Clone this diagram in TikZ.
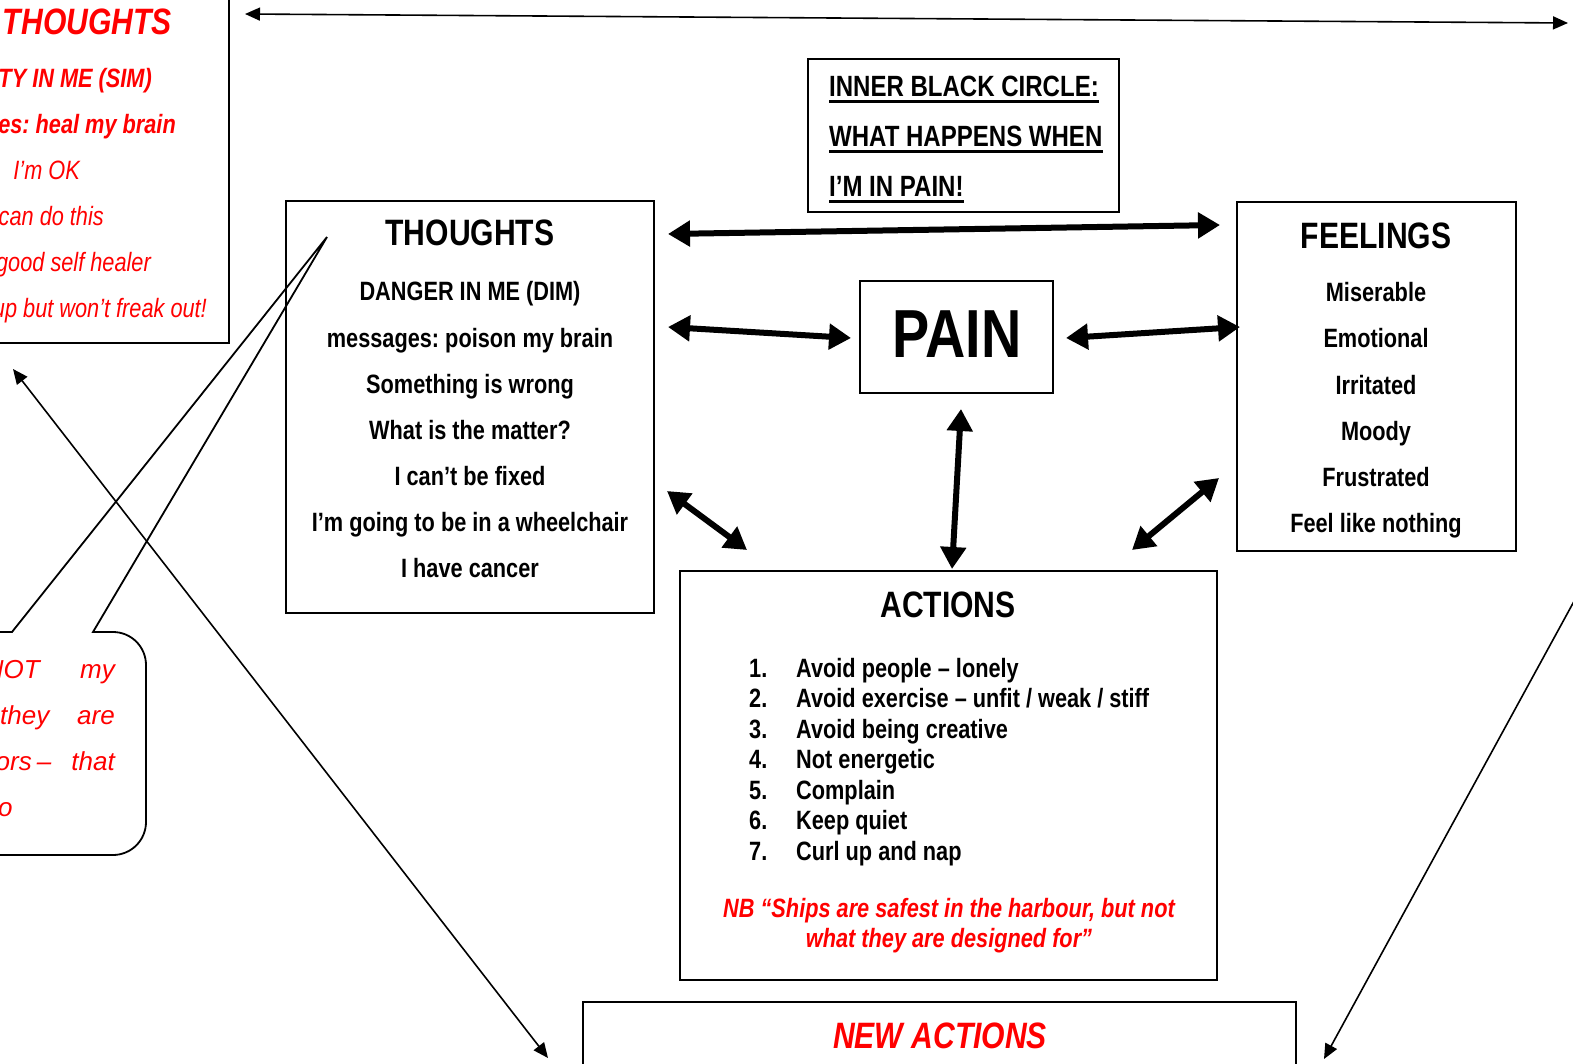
\documentclass[tikz,border=0pt]{standalone}
\usepackage{fontspec}
\setmainfont{Liberation Sans}[FakeStretch=0.82]
\newfontfamily\widesans{Liberation Sans}
\usetikzlibrary{arrows.meta}
\definecolor{rd}{RGB}{255,0,0}
\frenchspacing
\begin{document}
\frenchspacing
\begin{tikzpicture}[x=1pt,y=-1pt,
  bx/.style={draw, line width=1.8pt, inner sep=0pt},
  bodytxt/.style={inner sep=0pt, anchor=base, font=\fontsize{26.5pt}{30pt}\selectfont\bfseries},
  ttltxt/.style={inner sep=0pt, anchor=base, font=\fontsize{36.7pt}{40pt}\selectfont\bfseries},
  innertxt/.style={inner sep=0pt, anchor=base west, font=\fontsize{29.3pt}{32pt}\selectfont\bfseries},
  redbi/.style={inner sep=0pt, anchor=base east, text=rd, font=\fontsize{26.5pt}{30pt}\selectfont\bfseries\itshape},
  redi/.style={inner sep=0pt, anchor=base east, text=rd, font=\fontsize{26.5pt}{30pt}\selectfont\itshape},
  bubtxt/.style={inner sep=0pt, text=rd, font=\fontsize{26pt}{30pt}\selectfont\widesans\itshape},
  uline/.style={line width=3pt},
  thickarr/.style={line width=6pt, {Triangle[length=22pt,width=25pt]}-{Triangle[length=22pt,width=25pt]}},
  thinarr/.style={line width=1.6pt, {Triangle[length=15pt,width=13pt]}-{Triangle[length=15pt,width=13pt]}},
  thinone/.style={line width=1.6pt, -{Triangle[length=15pt,width=13pt]}}
]
\useasboundingbox (0,0) rectangle (1573,1064);
\clip (0,0) rectangle (1573,1064);
\fill[white] (0,0) rectangle (1573,1064);

% ---------- boxes ----------
\node[bx, minimum width=249pt, minimum height=363pt] (redbox) at (104.5,161.5) {};
\node[bx, minimum width=368pt, minimum height=412pt] (thoughts) at (470,407) {};
\node[bx, minimum width=279pt, minimum height=349pt] (feelings) at (1376.5,376.5) {};
\node[bx, minimum width=311pt, minimum height=153pt] (inner) at (963.5,135.5) {};
\node[bx, minimum width=193pt, minimum height=112pt] (pain) at (956.5,337) {};
\node[bx, minimum width=537pt, minimum height=409pt] (actions) at (948.5,775.5) {};
\node[bx, minimum width=713pt, minimum height=98pt] (newactions) at (939.5,1051) {};

% ---------- speech bubble ----------
\draw[line width=1.8pt, line join=miter]
  (-60,632) -- (12,632) -- (327,237) -- (93,632) -- (113,632)
  arc[start angle=90, end angle=0, radius=33pt] -- (146,822)
  arc[start angle=0, end angle=-90, radius=33pt] -- (-60,855);

% ---------- red box text ----------
\node[redbi, font=\fontsize{36.7pt}{40pt}\selectfont\bfseries\itshape] (r1) at (172,35) {THOUGHTS};
\node[redbi] (r2) at (152,88) {TY IN ME (SIM)};
\node[redbi] (r3) at (176,134) {es: heal my brain};
\node[redi] (r4) at (80,180) {I’m OK};
\node[redi] (r5) at (104,226) {can do this};
\node[redi] (r6) at (151,272) {good self healer};
\node[redi] (r7) at (207,318) {up but won’t freak out!};

% ---------- bubble text ----------
\node[bubtxt, anchor=base east] (b1a) at (40,678) {NOT};
\node[bubtxt, anchor=base east] (b1b) at (115,678) {my};
\node[bubtxt, anchor=base west] (b2a) at (0,724) {they};
\node[bubtxt, anchor=base east] (b2b) at (115,724) {are};
\node[bubtxt, anchor=base east] (b3a) at (32,770) {ors};
\node[bubtxt, anchor=base] (b3b) at (44,770) {–};
\node[bubtxt, anchor=base east] (b3c) at (115,770) {that};
\node[bubtxt, anchor=base west] (b4a) at (-2,816) {o};

% ---------- inner box text ----------
\node[innertxt] (in1) at (829,97) {INNER BLACK CIRCLE:};
\node[innertxt] (in2) at (829,147) {WHAT HAPPENS WHEN};
\node[innertxt] (in3) at (829,197) {I’M IN PAIN!};
\foreach \n in {in1,in2,in3}
  \draw[uline] ([yshift=-5pt]\n.base west) -- ([yshift=-5pt]\n.base east);

% ---------- thoughts text ----------
\node[ttltxt] (th0) at (470,246) {THOUGHTS};
\node[bodytxt] (th1) at (470,301) {DANGER IN ME (DIM)};
\node[bodytxt] (th2) at (470,347) {messages: poison my brain};
\node[bodytxt] (th3) at (470,393) {Something is wrong};
\node[bodytxt] (th4) at (470,439) {What is the matter?};
\node[bodytxt] (th5) at (470,485) {I can’t be fixed};
\node[bodytxt] (th6) at (470,531) {I’m going to be in a wheelchair};
\node[bodytxt] (th7) at (470,577) {I have cancer};

% ---------- feelings text ----------
\node[ttltxt] (fe0) at (1376,249) {FEELINGS};
\node[bodytxt] (fe1) at (1376,302) {Miserable};
\node[bodytxt] (fe2) at (1376,348) {Emotional};
\node[bodytxt] (fe3) at (1376,394) {Irritated};
\node[bodytxt] (fe4) at (1376,440) {Moody};
\node[bodytxt] (fe5) at (1376,486) {Frustrated};
\node[bodytxt] (fe6) at (1376,532) {Feel like nothing};

% ---------- pain ----------
\node[inner sep=0pt, anchor=base, font=\fontsize{68pt}{70pt}\selectfont\bfseries] (paintxt) at (957,357) {PAIN};

% ---------- actions ----------
\node[ttltxt] (ac0) at (948,617) {ACTIONS};
\foreach \i/\t [count=\k] in {1/{Avoid people – lonely}, 2/{Avoid exercise – unfit / weak / stiff}, 3/{Avoid being creative}, 4/{Not energetic}, 5/{Complain}, 6/{Keep quiet}, 7/{Curl up and nap}} {
  \node[bodytxt, anchor=base west] (acn\k) at (749,{677+30.5*(\k-1)}) {\i.};
  \node[bodytxt, anchor=base west] (act\k) at (796,{677+30.5*(\k-1)}) {\t};
}
\node[bodytxt, text=rd, font=\fontsize{26.5pt}{30pt}\selectfont\bfseries\itshape] (nb1) at (949,917) {NB “Ships are safest in the harbour, but not};
\node[bodytxt, text=rd, font=\fontsize{26.5pt}{30pt}\selectfont\bfseries\itshape] (nb2) at (949,947) {what they are designed for”};

% ---------- new actions ----------
\node[ttltxt, text=rd, font=\fontsize{36.7pt}{40pt}\selectfont\bfseries\itshape] (na0) at (940,1048) {NEW ACTIONS};

% ---------- thick arrows ----------
\coordinate (a1s) at (668,234);  \coordinate (a1e) at (1220,225);
\coordinate (a2s) at (668,327);  \coordinate (a2e) at (851,338);
\coordinate (a3s) at (1066,338); \coordinate (a3e) at (1240,327);
\coordinate (a4s) at (961,409);  \coordinate (a4e) at (952,569);
\coordinate (a5s) at (667,491);  \coordinate (a5e) at (747,550);
\coordinate (a6s) at (1219,478); \coordinate (a6e) at (1132,550);
\draw[thickarr] (a1s) -- (a1e);
\draw[thickarr] (a2s) -- (a2e);
\draw[thickarr] (a3s) -- (a3e);
\draw[thickarr] (a4s) -- (a4e);
\draw[thickarr] (a5s) -- (a5e);
\draw[thickarr] (a6s) -- (a6e);

% ---------- thin arrows ----------
\coordinate (t1s) at (245,14);   \coordinate (t1e) at (1568,23);
\coordinate (t2s) at (13,369);   \coordinate (t2e) at (548,1058);
\coordinate (t3s) at (1590,572); \coordinate (t3e) at (1324,1059);
\draw[thinarr] (t1s) -- (t1e);
\draw[thinarr] (t2s) -- (t2e);
\draw[thinone] (t3s) -- (t3e);
\end{tikzpicture}
\end{document}
